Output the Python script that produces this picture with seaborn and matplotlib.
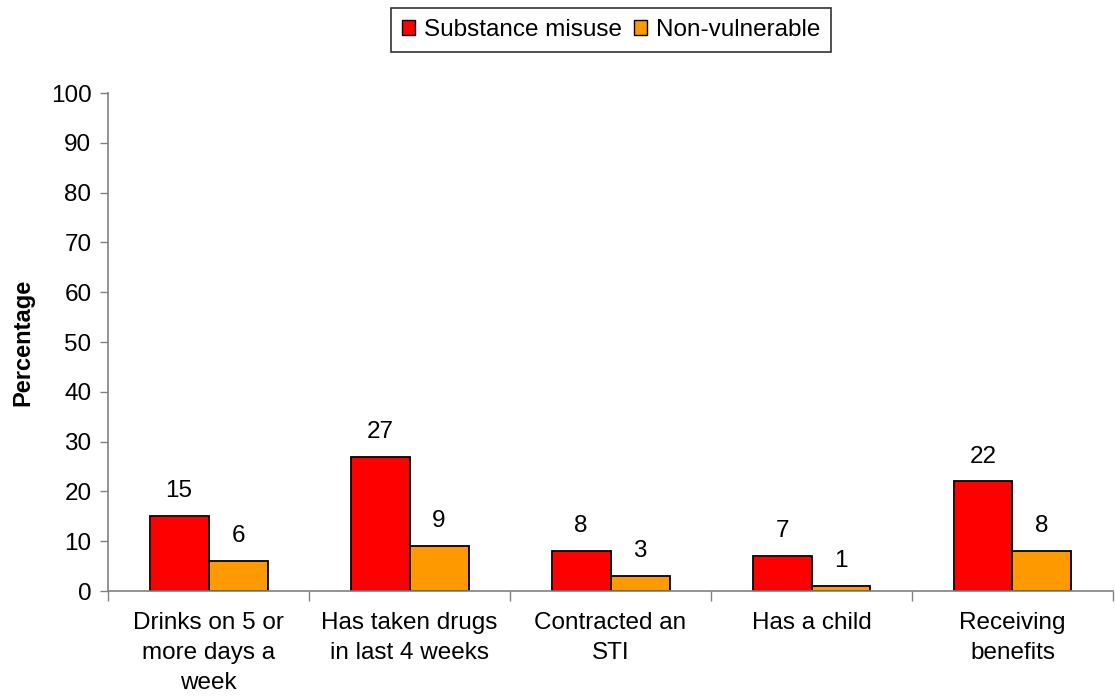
import pandas as pd
import seaborn as sns
import matplotlib.pyplot as plt
from matplotlib.patches import Patch

categories = [
    "Drinks on 5 or\nmore days a\nweek",
    "Has taken drugs\nin last 4 weeks",
    "Contracted an\nSTI",
    "Has a child",
    "Receiving\nbenefits",
]
substance_misuse = [15, 27, 8, 7, 22]
non_vulnerable = [6, 9, 3, 1, 8]
series_names = ["Substance misuse", "Non-vulnerable"]
colors = ["#FF0000", "#FF9900"]

df = pd.DataFrame({
    "Category": categories * 2,
    "Group": [series_names[0]] * len(categories) + [series_names[1]] * len(categories),
    "Value": substance_misuse + non_vulnerable,
})

sns.set_style("white")
plt.rcParams["font.family"] = ["Liberation Sans", "DejaVu Sans"]
plt.rcParams["text.color"] = "black"
plt.rcParams["axes.labelcolor"] = "black"
plt.rcParams["xtick.color"] = "black"
plt.rcParams["ytick.color"] = "black"

FS = 17.5

fig = plt.figure(figsize=(11.15, 6.99), dpi=100)
ax = fig.add_axes([0.0969, 0.1545, 0.9013, 0.7124])

sns.barplot(data=df, x="Category", y="Value", hue="Group", order=categories,
            hue_order=series_names, palette=colors, width=0.587, gap=0,
            edgecolor="black", linewidth=1.3, saturation=1, ax=ax, legend=False)

# value labels above bars
for container in ax.containers:
    ax.bar_label(container, fmt="%d", padding=10, fontsize=FS, color="black")

ax.set_ylim(0, 100)
ax.set_xlim(-0.5, len(categories) - 0.5)
ax.set_yticks(range(0, 101, 10))
ax.set_ylabel("Percentage", fontsize=17, fontweight="bold", labelpad=12)
ax.set_xlabel("")

ax.tick_params(axis="y", labelsize=FS, length=6, width=1, color="#808080", direction="out", pad=6, left=True)
ax.tick_params(axis="x", which="major", labelsize=FS, length=0, pad=15)
for lbl in ax.get_xticklabels():
    lbl.set_linespacing(1.48)
ax.set_xticks([i + 0.5 for i in range(-1, len(categories))], minor=True)
ax.tick_params(axis="x", which="minor", length=7, width=1, color="#808080", direction="out", bottom=True)

for side in ["top", "right"]:
    ax.spines[side].set_visible(False)
for side in ["left", "bottom"]:
    ax.spines[side].set_color("#808080")
    ax.spines[side].set_linewidth(1.2)

handles = [Patch(facecolor=c, edgecolor="black", label=n) for c, n in zip(colors, series_names)]
leg = fig.legend(handles=handles, loc="upper center", bbox_to_anchor=(0.548, 0.988), ncol=2,
                 fontsize=FS, frameon=True, fancybox=False, edgecolor="black",
                 handlelength=0.55, handleheight=0.55, handletextpad=0.35, columnspacing=0.5,
                 borderpad=0.45, borderaxespad=0)
leg.get_frame().set_linewidth(1.2)

fig.savefig("out.png", dpi=100, facecolor="white")
